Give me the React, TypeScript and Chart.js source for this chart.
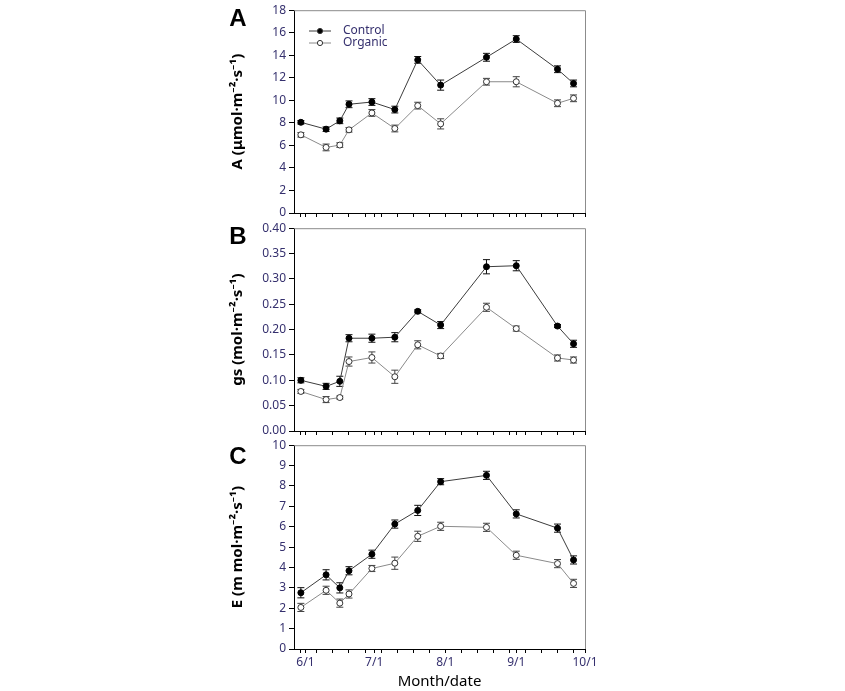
import React, { useEffect, useRef } from "react";
import { Chart, registerables } from "chart.js";
Chart.register(...registerables);

// x values: days counted from June 1
const sampleDays = [-2, 9, 15, 19, 29, 39, 49, 59, 79, 92, 110, 117];
const majorTickDays = [0, 30, 61, 92, 122];
const majorTickLabels = ["6/1", "7/1", "8/1", "9/1", "10/1"];
const minorTickDays = [-2, 5, 12, 19, 26, 33, 40, 47, 54, 68, 75, 82, 89, 96, 103, 110, 117];

const seriesNames = ["Control", "Organic"];

const aControl = [8.05, 7.44, 8.18, 9.65, 9.85, 9.18, 13.59, 11.35, 13.82, 15.44, 12.76, 11.5];
const aControlErr = [0.15, 0.2, 0.25, 0.3, 0.3, 0.3, 0.3, 0.45, 0.35, 0.3, 0.3, 0.3];
const aOrganic = [6.94, 5.82, 6.03, 7.38, 8.88, 7.5, 9.53, 7.91, 11.65, 11.65, 9.74, 10.18];
const aOrganicErr = [0.2, 0.3, 0.2, 0.2, 0.3, 0.3, 0.3, 0.45, 0.3, 0.45, 0.3, 0.3];

const gsControl = [0.1, 0.088, 0.098, 0.183, 0.183, 0.185, 0.236, 0.209, 0.324, 0.326, 0.207, 0.172];
const gsControlErr = [0.005, 0.006, 0.01, 0.007, 0.008, 0.009, 0.003, 0.007, 0.014, 0.01, 0.003, 0.007];
const gsOrganic = [0.078, 0.062, 0.066, 0.137, 0.145, 0.107, 0.17, 0.148, 0.244, 0.202, 0.144, 0.14];
const gsOrganicErr = [0.004, 0.006, 0.003, 0.009, 0.011, 0.013, 0.008, 0.005, 0.008, 0.005, 0.006, 0.006];

const eControl = [2.76, 3.64, 3.0, 3.84, 4.65, 6.13, 6.8, 8.21, 8.52, 6.63, 5.93, 4.37];
const eControlErr = [0.25, 0.25, 0.25, 0.2, 0.2, 0.2, 0.25, 0.15, 0.2, 0.2, 0.2, 0.2];
const eOrganic = [2.04, 2.88, 2.25, 2.7, 3.95, 4.21, 5.53, 6.02, 5.97, 4.6, 4.19, 3.22];
const eOrganicErr = [0.2, 0.2, 0.2, 0.2, 0.15, 0.3, 0.25, 0.2, 0.2, 0.2, 0.2, 0.2];

const TICK_COLOR = "#35306e";
const CONTROL_LINE = "#3c3c3c";
const ORGANIC_LINE = "#8a8a8a";

type PanelCfg = {
  letter: string;
  letterY: number;
  top: number;
  height: number;
  yMax: number;
  yStep: number;
  decimals: number;
  yTitle: string;
  control: number[];
  controlErr: number[];
  organic: number[];
  organicErr: number[];
  showXLabels: boolean;
  xHeight: number;
  legend: boolean;
};

const panels: PanelCfg[] = [
  { letter: "A", letterY: 19, top: 0, height: 230, yMax: 18, yStep: 2, decimals: 0, yTitle: "A (μmol·m⁻²·s⁻¹)",
    control: aControl, controlErr: aControlErr, organic: aOrganic, organicErr: aOrganicErr,
    showXLabels: false, xHeight: 17, legend: true },
  { letter: "B", letterY: 19, top: 218, height: 230, yMax: 0.4, yStep: 0.05, decimals: 2, yTitle: "gs (mol·m⁻²·s⁻¹)",
    control: gsControl, controlErr: gsControlErr, organic: gsOrganic, organicErr: gsOrganicErr,
    showXLabels: false, xHeight: 17, legend: false },
  { letter: "C", letterY: 22, top: 435, height: 256, yMax: 10, yStep: 1, decimals: 0, yTitle: "E (m mol·m⁻²·s⁻¹)",
    control: eControl, controlErr: eControlErr, organic: eOrganic, organicErr: eOrganicErr,
    showXLabels: true, xHeight: 42, legend: false },
];

const errorBarPlugin = {
  id: "errorBars",
  beforeDatasetsDraw(chart: any) {
    const ctx = chart.ctx;
    const yScale = chart.scales.y;
    chart.data.datasets.forEach((ds: any, i: number) => {
      const meta = chart.getDatasetMeta(i);
      ctx.save();
      ctx.strokeStyle = ds.errColor;
      ctx.lineWidth = 1;
      meta.data.forEach((pt: any, j: number) => {
        const v = ds.data[j].y;
        const e = ds.errors[j];
        const y1 = yScale.getPixelForValue(v + e);
        const y2 = yScale.getPixelForValue(v - e);
        const x = pt.x;
        ctx.beginPath();
        ctx.moveTo(x, y1);
        ctx.lineTo(x, y2);
        ctx.moveTo(x - 3.5, y1);
        ctx.lineTo(x + 3.5, y1);
        ctx.moveTo(x - 3.5, y2);
        ctx.lineTo(x + 3.5, y2);
        ctx.stroke();
      });
      ctx.restore();
    });
  },
};

const framePlugin = {
  id: "frame",
  afterDraw(chart: any, _args: any, opts: any) {
    const { ctx, chartArea } = chart;
    ctx.save();
    ctx.strokeStyle = "#8c8c8c";
    ctx.lineWidth = 1;
    ctx.beginPath();
    ctx.moveTo(chartArea.left, chartArea.top + 0.5);
    ctx.lineTo(chartArea.right + 0.5, chartArea.top + 0.5);
    ctx.lineTo(chartArea.right + 0.5, chartArea.bottom);
    ctx.stroke();
    // panel letter
    ctx.fillStyle = "#000";
    ctx.font = "bold 24px 'Liberation Sans', Arial, sans-serif";
    ctx.textAlign = "center";
    ctx.textBaseline = "middle";
    ctx.fillText(opts.letter, 238, opts.letterY);
    if (opts.legend) {
      const items = [
        { name: seriesNames[0], y: 31, line: CONTROL_LINE, fill: "#000" },
        { name: seriesNames[1], y: 43, line: ORGANIC_LINE, fill: "#fff" },
      ];
      items.forEach((it) => {
        ctx.strokeStyle = it.line;
        ctx.lineWidth = 1;
        ctx.beginPath();
        ctx.moveTo(309, it.y);
        ctx.lineTo(331, it.y);
        ctx.stroke();
        ctx.beginPath();
        ctx.arc(320, it.y, 2.6, 0, Math.PI * 2);
        ctx.fillStyle = it.fill;
        ctx.fill();
        ctx.strokeStyle = "#333";
        ctx.stroke();
        ctx.fillStyle = TICK_COLOR;
        ctx.font = "12px 'Noto Sans', sans-serif";
        ctx.textAlign = "left";
        ctx.textBaseline = "middle";
        ctx.fillText(it.name, 343, it.y);
      });
    }
    ctx.restore();
  },
};

function Panel({ cfg }: { cfg: PanelCfg }) {
  const ref = useRef<HTMLCanvasElement | null>(null);
  useEffect(() => {
    if (!ref.current) return;
    const toPts = (vals: number[]) => sampleDays.map((d, i) => ({ x: d, y: vals[i] }));
    const allTicks = [...majorTickDays, ...minorTickDays.filter((d) => !majorTickDays.includes(d))].sort((a, b) => a - b);
    const chart = new Chart(ref.current, {
      type: "line",
      data: {
        datasets: [
          {
            label: seriesNames[0],
            data: toPts(cfg.control),
            errors: cfg.controlErr,
            errColor: "#111",
            borderColor: CONTROL_LINE,
            borderWidth: 1,
            pointRadius: 3,
            pointBackgroundColor: "#000",
            pointBorderColor: "#000",
            pointBorderWidth: 1,
            tension: 0,
          } as any,
          {
            label: seriesNames[1],
            data: toPts(cfg.organic),
            errors: cfg.organicErr,
            errColor: "#444",
            borderColor: ORGANIC_LINE,
            borderWidth: 1,
            pointRadius: 3,
            pointBackgroundColor: "#fff",
            pointBorderColor: "#333",
            pointBorderWidth: 1,
            tension: 0,
          } as any,
        ],
      },
      options: {
        animation: false,
        responsive: false,
        events: [],
        layout: { padding: { left: 229, right: 260, top: 8, bottom: 0 } },
        plugins: {
          legend: { display: false },
          tooltip: { enabled: false },
          frame: { letter: cfg.letter, letterY: cfg.letterY, legend: cfg.legend },
        } as any,
        scales: {
          x: {
            type: "linear",
            min: -5,
            max: 122,
            afterBuildTicks: (scale: any) => {
              scale.ticks = allTicks.map((v) => ({ value: v }));
            },
            afterFit: (scale: any) => {
              scale.height = cfg.xHeight;
            },
            ticks: {
              display: cfg.showXLabels,
              autoSkip: false,
              maxRotation: 0,
              color: TICK_COLOR,
              padding: 2,
              font: { size: 12, family: "'Noto Sans', sans-serif" },
              callback: (v: any) => {
                const idx = majorTickDays.indexOf(Number(v));
                return idx >= 0 ? majorTickLabels[idx] : "";
              },
            },
            grid: { drawOnChartArea: false, drawTicks: true, tickLength: 4, color: "#000" },
            border: { color: "#000", width: 1 },
            title: {
              display: cfg.showXLabels,
              text: "Month/date",
              color: "#000",
              padding: { top: 0, bottom: 0 },
              font: { size: 15, family: "'Noto Sans', sans-serif" },
            },
          },
          y: {
            type: "linear",
            min: 0,
            max: cfg.yMax,
            afterFit: (scale: any) => {
              scale.width = 65;
            },
            ticks: {
              stepSize: cfg.yStep,
              color: TICK_COLOR,
              padding: 3,
              font: { size: 12, family: "'Noto Sans', sans-serif" },
              callback: (v: any) => Number(v).toFixed(cfg.decimals),
            },
            grid: { drawOnChartArea: false, drawTicks: true, tickLength: 5, color: "#000" },
            border: { color: "#000", width: 1 },
            title: {
              display: true,
              text: cfg.yTitle,
              color: "#000",
              padding: { top: 0, bottom: 0 },
              font: { size: 15, weight: "bold", family: "'Noto Sans', sans-serif" },
            },
          },
        },
      } as any,
      plugins: [errorBarPlugin, framePlugin],
    });
    return () => chart.destroy();
  }, [cfg]);
  return (
    <canvas
      ref={ref}
      width={845}
      height={cfg.height}
      style={{ position: "absolute", left: 0, top: cfg.top, width: 845, height: cfg.height }}
    />
  );
}

export default function App() {
  useEffect(() => {
    document.body.style.margin = "0";
  }, []);
  return (
    <div style={{ position: "relative", width: 845, height: 691, background: "#fff", overflow: "hidden" }}>
      {panels.map((p) => (
        <Panel key={p.letter} cfg={p} />
      ))}
    </div>
  );
}
